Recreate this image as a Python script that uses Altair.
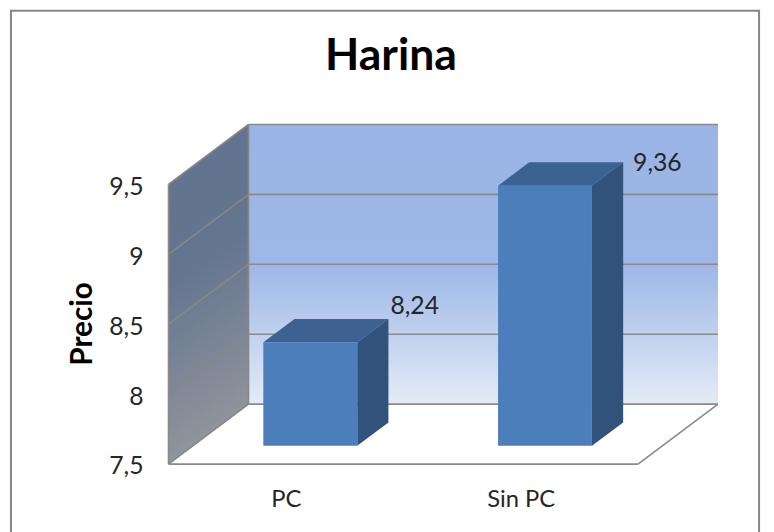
import altair as alt
import pandas as pd

# ---- chart values ----
CATEGORIES = ["PC", "Sin PC"]
PRECIO = [8.24, 9.36]
TICKS = [7.5, 8, 8.5, 9, 9.5]
TITLE = "Harina"
Y_TITLE = "Precio"

# ---- oblique 3-D model (data units) ----
BASE = 7.5
DEPTH_X = 0.3408     # full floor depth, in category units
DEPTH_Y = 0.4286     # full floor depth, in value units
BAR_W = 0.40
D0, D1 = 0.305, 0.695  # front and back of the bars, as fractions of depth
N = len(CATEGORIES)
TOP_V = TICKS[-1]

W, H = 766, 524
xs = alt.Scale(domain=[-0.6837, 2.5453], nice=False, zero=False)
ys = alt.Scale(domain=[7.034, 10.742], nice=False, zero=False)


def px(c, d=0.0):
    return c + d * DEPTH_X


def py(v, d=0.0):
    return v + d * DEPTH_Y


cat_expr = f"datum.value < 1 ? '{CATEGORIES[0]}' : '{CATEGORIES[1]}'"
x_axis = alt.Axis(
    orient="bottom", offset=-68, values=[0.5, 1.5], labelExpr=cat_expr, title=None,
    domain=False, ticks=False, grid=False, labelPadding=26, labelFont="Lato",
    labelFontSize=24, labelColor="#262626", labelFlush=False, labelOverlap=False)
y_axis = alt.Axis(
    orient="left", offset=-160.5, values=TICKS, title=Y_TITLE,
    labelExpr="replace(format(datum.value, '.1~f'), '.', ',')",
    domain=False, ticks=False, grid=False, labelPadding=24, labelOffset=2, labelFont="Lato",
    labelFontSize=25, labelColor="#262626", labelOverlap=False,
    titleFont="Lato", titleFontSize=30, titleFontWeight="bold", titleColor="black",
    titleX=-85, titleY=316, titleAngle=270, titleBaseline="middle")

X = alt.X("x:Q", scale=xs, axis=x_axis)
Y = alt.Y("y:Q", scale=ys, axis=y_axis)
X2 = alt.X2("x2:Q")
Y2 = alt.Y2("y2:Q")

# frame
frame = alt.Chart(pd.DataFrame({"a": [0]})).mark_rect(
    fill="transparent", stroke="#868686", strokeWidth=2
).encode(x=alt.value(3), x2=alt.value(759), y=alt.value(0), y2=alt.value(560))

# back wall
back = pd.DataFrame([{"x": px(0, 1), "x2": px(N, 1), "y": py(BASE, 1), "y2": py(TOP_V, 1)}])
back_wall = alt.Chart(back).mark_rect(
    color=alt.Gradient(
        gradient="linear", x1=0, y1=0, x2=0, y2=1,
        stops=[
            alt.GradientStop(color="#9AB4E5", offset=0),
            alt.GradientStop(color="#9DB7E6", offset=0.5),
            alt.GradientStop(color="#E4EBF7", offset=1),
        ],
    )
).encode(x=X, x2=X2, y=Y, y2=Y2)

# side wall, a parallelogram
side = pd.DataFrame([
    {"x": px(0, 0), "y": py(BASE, 0), "y2": py(TOP_V, 0)},
    {"x": px(0, 1), "y": py(BASE, 1), "y2": py(TOP_V, 1)},
])
side_wall = alt.Chart(side).mark_area(
    orient="vertical",
    color=alt.Gradient(
        gradient="linear", x1=0, y1=0, x2=0.15, y2=1,
        stops=[
            alt.GradientStop(color="#62738F", offset=0),
            alt.GradientStop(color="#64758F", offset=0.45),
            alt.GradientStop(color="#93969C", offset=1),
        ],
    ),
).encode(x=X, y=Y, y2=Y2)

# wall and floor lines
lines = []
for t in TICKS:
    lines.append({"x": px(0, 1), "y": py(t, 1), "x2": px(N, 1), "y2": py(t, 1), "k": "grid"})
    lines.append({"x": px(0, 0), "y": py(t, 0), "x2": px(0, 1), "y2": py(t, 1), "k": "side"})
lines += [
    {"x": px(0, 0), "y": py(BASE, 0), "x2": px(0, 0), "y2": py(TOP_V, 0), "k": "grid"},
    {"x": px(0, 1), "y": py(BASE, 1), "x2": px(0, 1), "y2": py(TOP_V, 1), "k": "side"},
    {"x": px(0, 0), "y": py(BASE, 0), "x2": px(N, 0), "y2": py(BASE, 0), "k": "grid"},
    {"x": px(N, 0), "y": py(BASE, 0), "x2": px(N, 1), "y2": py(BASE, 1), "k": "grid"},
]
lines = pd.DataFrame(lines)
rules = alt.Chart(lines).mark_rule(strokeWidth=1.6).encode(
    x=X, y=Y, x2=X2, y2=Y2,
    color=alt.Color("k:N", legend=None,
                    scale=alt.Scale(domain=["grid", "side"], range=["#8A8A8A", "#878787"])),
)

# bars
front_rows, side_rows, top_rows = [], [], []
for i, v in enumerate(PRECIO):
    c0 = i + 0.5 - BAR_W / 2
    c1 = i + 0.5 + BAR_W / 2
    front_rows.append({"x": px(c0, D0), "x2": px(c1, D0), "y": py(BASE, D0), "y2": py(v, D0)})
    side_rows += [
        {"b": i, "x": px(c1, D0), "y": py(BASE, D0), "y2": py(v, D0)},
        {"b": i, "x": px(c1, D1), "y": py(BASE, D1), "y2": py(v, D1)},
    ]
    top_rows += [
        {"b": i, "y": py(v, D0), "x": px(c0, D0), "x2": px(c1, D0)},
        {"b": i, "y": py(v, D1), "x": px(c0, D1), "x2": px(c1, D1)},
    ]

bar_front = alt.Chart(pd.DataFrame(front_rows)).mark_rect(color="#4D7EBC").encode(x=X, x2=X2, y=Y, y2=Y2)
bar_side = alt.Chart(pd.DataFrame(side_rows)).mark_area(orient="vertical", color="#30527B").encode(
    x=X, y=Y, y2=Y2, detail="b:N")
bar_top = alt.Chart(pd.DataFrame(top_rows)).mark_area(orient="horizontal", color="#3B6290").encode(
    y=Y, x=X, x2=X2, detail="b:N")

# value labels, placed just off the back corner of each bar
text_layers = []
for i, (v, nudge) in enumerate(zip(PRECIO, [(2, -13), (10, 1)])):
    row = pd.DataFrame([{"x": px(i + 0.5 + BAR_W / 2, D1), "y": py(v, D1),
                         "t": f"{v:.2f}".replace(".", ",")}])
    text_layers.append(
        alt.Chart(row).mark_text(
            align="left", baseline="middle", font="Lato", fontSize=25, color="#262626",
            dx=nudge[0], dy=nudge[1],
        ).encode(x=X, y=Y, text="t:N")
    )

chart = alt.layer(
    frame, side_wall, back_wall, rules, bar_side, bar_top, bar_front, *text_layers
).properties(
    width=W, height=H, padding=0,
    autosize=alt.AutoSizeParams(type="none", contains="padding"),
    background="white",
    title=alt.TitleParams(TITLE, font="Lato", fontSize=45, fontWeight="bold", color="black",
                          anchor="middle", offset=-70, dx=4),
).configure_view(stroke=None)

chart.save("out.html", embed_options={"renderer": "svg", "actions": False})
